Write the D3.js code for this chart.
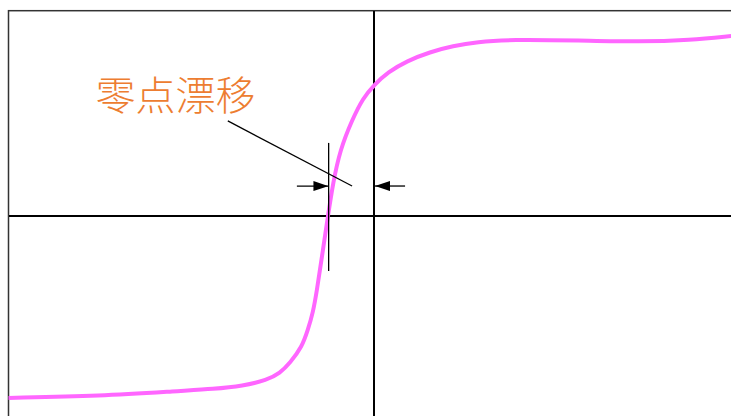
<!DOCTYPE html>
<html lang="zh">
<head>
  <meta charset="UTF-8">
  <title>零点漂移</title>
  <style>
    body { margin: 0; background: #fff; }
    .frame { fill: none; stroke: #333; stroke-width: 1.5; }
    .axis line { stroke: #000; stroke-width: 2; shape-rendering: crispEdges; }
    .curve { fill: none; stroke: #ff66ff; stroke-width: 4; }
    .mark { stroke: #000; stroke-width: 1.3; fill: none; }
    .label { fill: #ed7d31; font-family: "Noto Sans CJK SC", sans-serif; font-size: 40px; font-weight: 300; }
  </style>
</head>
<body>
  <div id="chart"></div>
  <script src="https://d3js.org/d3.v7.min.js"></script>
  <script>
    // 传感器输出曲线 (输入, 输出)，归一化到 [-1, 1]
    var inputVals = [-1.0, -0.75, -0.531, -0.44, -0.358, -0.293, -0.257, -0.23, -0.197, -0.181, -0.167, -0.156, -0.145, -0.126, -0.112, -0.093, -0.06, -0.03, 0, 0.038, 0.09, 0.153, 0.216, 0.282, 0.372, 0.564, 0.728, 0.865, 0.977]
    var outputVals = [-0.886, -0.877, -0.852, -0.843, -0.828, -0.799, -0.765, -0.716, -0.638, -0.555, -0.472, -0.36, -0.229, 0, 0.161, 0.321, 0.468, 0.575, 0.638, 0.701, 0.755, 0.799, 0.828, 0.848, 0.86, 0.855, 0.848, 0.857, 0.877]
    // 零点位置（曲线与横轴交点）和标注
    var zeroShift = [-0.126, 0]
    var labelText = ['零点漂移']

    var width = 731
    var height = 416
    var svg = d3.select('#chart').append('svg')
      .attr('width', width)
      .attr('height', height)

    var xScale = d3.scaleLinear().domain([-1, 1]).range([8.5, 739.5])
    var yScale = d3.scaleLinear().domain([-1, 1]).range([421.3, 10.7])

    // 外框
    svg.append('rect')
      .attr('class', 'frame')
      .attr('x', xScale(-1))
      .attr('y', yScale(1))
      .attr('width', xScale(1) - xScale(-1))
      .attr('height', yScale(-1) - yScale(1))

    // 坐标轴
    var axis = svg.append('g').attr('class', 'axis')
    axis.append('line')
      .attr('x1', xScale(-1)).attr('x2', xScale(1))
      .attr('y1', yScale(0)).attr('y2', yScale(0))
    axis.append('line')
      .attr('x1', xScale(0)).attr('x2', xScale(0))
      .attr('y1', yScale(1)).attr('y2', yScale(-1))

    // 曲线 (B 样条平滑)
    var points = inputVals.map(function (d, i) { return [d, outputVals[i]] })
    var line = d3.line()
      .x(function (d) { return xScale(d[0]) })
      .y(function (d) { return yScale(d[1]) })
      .curve(d3.curveBasis)
    svg.append('path')
      .attr('class', 'curve')
      .attr('d', line(points))

    // 箭头
    var defs = svg.append('defs')
    defs.append('marker')
      .attr('id', 'arrow')
      .attr('viewBox', '0 0 15 10')
      .attr('refX', 15).attr('refY', 5)
      .attr('markerWidth', 15).attr('markerHeight', 10)
      .attr('markerUnits', 'userSpaceOnUse')
      .attr('orient', 'auto')
      .append('path')
      .attr('d', 'M0,0 L15,5 L0,10 Z')
      .attr('fill', '#000')

    var marks = svg.append('g').attr('class', 'mark')
    // 零点处竖线
    marks.append('line')
      .attr('x1', xScale(zeroShift[0]) + 0.7).attr('x2', xScale(zeroShift[0]) + 0.7)
      .attr('y1', yScale(0.356)).attr('y2', yScale(-0.268))
    // 两个箭头
    var arrowY = yScale(0.146)
    marks.append('line')
      .attr('x1', xScale(-0.211)).attr('x2', xScale(zeroShift[0]) + 0.5)
      .attr('y1', arrowY).attr('y2', arrowY)
      .attr('marker-end', 'url(#arrow)')
    marks.append('line')
      .attr('x1', xScale(0.085)).attr('x2', xScale(0) + 1)
      .attr('y1', arrowY).attr('y2', arrowY)
      .attr('marker-end', 'url(#arrow)')
    // 引线
    marks.append('line')
      .attr('x1', xScale(-0.4)).attr('y1', yScale(0.463))
      .attr('x2', xScale(-0.06)).attr('y2', yScale(0.146))

    svg.append('text')
      .attr('class', 'label')
      .attr('x', xScale(-0.762))
      .attr('y', yScale(0.516))
      .text(labelText[0])
  </script>
</body>
</html>
